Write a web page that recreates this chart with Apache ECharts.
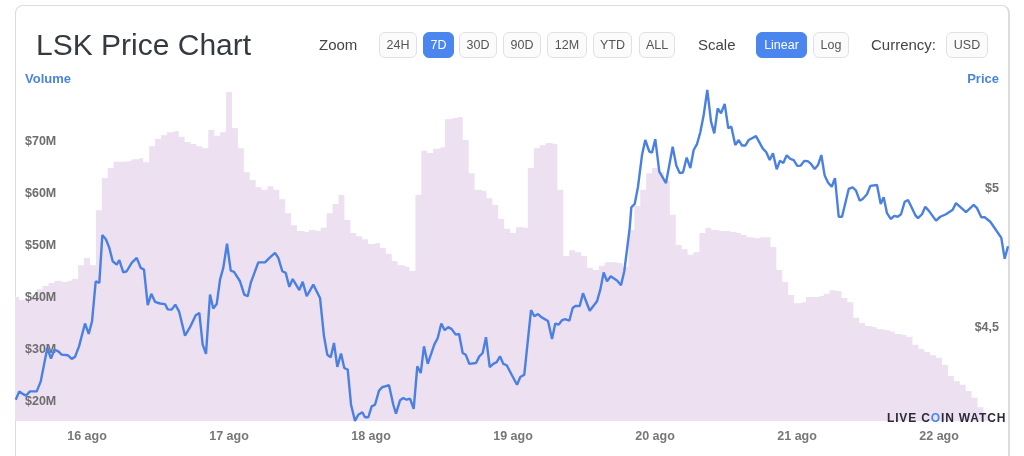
<!DOCTYPE html>
<html>
<head>
<meta charset="utf-8">
<title>LSK Price Chart</title>
<script src="https://cdn.jsdelivr.net/npm/echarts@6/dist/echarts.min.js"></script>
<style>
  html, body { margin: 0; width: 1024px; height: 456px; overflow: hidden; background: #fff; font-family: "Liberation Sans", Arial, sans-serif; }
  #card { position: absolute; left: 15px; top: 5px; width: 992px; height: 520px; border: 1px solid #dcdcdc; border-right-width: 2px; border-radius: 8px; }
  #chart { position: absolute; left: 0; top: 0; width: 1024px; height: 456px; }
  .title { position: absolute; left: 36px; top: 27px; font-size: 30px; line-height: 36px; color: #343a40; white-space: nowrap; }
  .lbl { position: absolute; top: 36px; font-size: 15px; line-height: 18px; color: #444; white-space: nowrap; }
  .btn { position: absolute; top: 32px; height: 24px; line-height: 24px; box-sizing: content-box; border: 1px solid #dfe1e6; border-radius: 6px; background: #fbfbfc; color: #555; font-size: 12.5px; text-align: center; }
  .on { background: #4a86ee; border-color: #4a86ee; color: #fff; }
  .axname { position: absolute; top: 71px; font-size: 13px; line-height: 15px; font-weight: bold; color: #4a86d8; white-space: nowrap; }
  #mark { position: absolute; left: 887px; top: 411px; font-size: 12px; line-height: 14px; font-weight: bold; letter-spacing: 0.85px; color: #2a2a38; white-space: nowrap; }
  #mark span { color: #4a86ee; }
</style>
</head>
<body>
<div id="card"></div>
<div id="chart"></div>
<div class="title">LSK Price Chart</div>
<div class="lbl" style="left:319px">Zoom</div>
<div class="btn" style="left:379px;width:36px">24H</div>
<div class="btn on" style="left:423px;width:29px">7D</div>
<div class="btn" style="left:459px;width:36px">30D</div>
<div class="btn" style="left:503px;width:36px">90D</div>
<div class="btn" style="left:547px;width:38px">12M</div>
<div class="btn" style="left:593px;width:37px">YTD</div>
<div class="btn" style="left:639px;width:34px">ALL</div>
<div class="lbl" style="left:698px">Scale</div>
<div class="btn on" style="left:756px;width:49px">Linear</div>
<div class="btn" style="left:813px;width:34px">Log</div>
<div class="lbl" style="left:871px">Currency:</div>
<div class="btn" style="left:946px;width:40px">USD</div>
<div class="axname" style="left:25px">Volume</div>
<div class="axname" style="right:25px">Price</div>
<div id="mark">LIVE C<span>O</span>IN WATCH</div>
<script>
// x axis runs in hours counted from 16 ago 00:00
var dayHours = [0, 24, 48, 72, 96, 120, 144];
var dayLabels = ['16 ago', '17 ago', '18 ago', '19 ago', '20 ago', '21 ago', '22 ago'];
var volumeTicks = [20, 30, 40, 50, 60, 70];
var priceTicks = [4.5, 5];
var priceTickLabels = ['$4,5', '$5'];

// hourly volume in $M, first entry is hour -13
var volumeValues = [
  40.3, 40.2, 39.6, 39.4, 40.6, 41.7, 42.3, 42.9, 43.3, 43.1, 43.3, 43.7, 46.3, 47.7, 46.3,
  56.9, 63.1, 65, 66.2, 66.2, 66.3, 66.7, 66.9, 66.1, 69.2, 70.6, 71.3, 71.9, 72.1, 71,
  70, 69.6, 69.2, 68.8, 72.3, 71.2, 71.9, 79.6, 72.7, 68.8, 64.2, 62.7, 61.3, 60.8, 61.5,
  60.8, 59, 56.3, 54, 52.9, 52.7, 53.1, 52.9, 53.5, 56.3, 58.1, 59.8, 55, 52.5, 51.9,
  51.3, 50.4, 50.6, 49.6, 48.5, 47.1, 46.3, 46, 45.2, 59.8, 68.3, 67.9, 68.7, 69, 74.4,
  74.6, 74.8, 70.4, 64, 60.8, 60.6, 59.2, 57.9, 55.2, 53.3, 52.5, 53.6, 53.5, 65, 68.8,
  69.4, 69.8, 69.6, 60.8, 48.1, 49.2, 48.8, 48.1, 45.8, 45.4, 46.2, 46.9, 46.9, 46.7, 46,
  53.1, 57.7, 60.8, 64, 65, 64.2, 62.5, 56, 50.2, 49.4, 48.3, 48.8, 52.5, 53.5, 53.1,
  52.9, 52.9, 52.7, 52.5, 52.1, 51.7, 51.5, 51.7, 51.7, 49.8, 45.4, 43.1, 40.6, 39, 39.2,
  40.2, 40.2, 40.4, 40.8, 41.5, 41.3, 40, 39.2, 36.2, 35.2, 34.6, 34.4, 34, 33.8, 33.5,
  33.1, 32.9, 32.5, 31, 30.2, 29.6, 29, 28.5, 27.1, 25, 24, 23.3, 22.1, 20.8, 19,
  17.5, 16.3, 15, 15, 15
];

var priceHours = [
  -12.05, -11.44, -10.87, -10.31, -9.63, -8.5, -7.82, -7.1, -6.71, -6.08, -5.53, -4.85, -4.28, -3.26, -2.59, -2.03, -1.35, -0.34, 0.29, 0.85,
  1.47, 2.08, 2.59, 3.21, 3.77, 4.34, 5.02, 5.46, 6.13, 6.71, 7.55, 8.4, 9.08, 9.63, 10.26, 10.87, 11.49, 12.34, 13.18, 13.64,
  14.31, 14.92, 15.55, 16.56, 17.41, 18.37, 18.98, 19.55, 20.11, 20.79, 21.34, 21.92, 22.48, 23.03, 23.66, 24.29, 24.84, 25.86, 26.58, 27.16,
  27.67, 28.95, 30.08, 30.93, 31.77, 32.33, 33.01, 33.58, 34.19, 34.76, 35.88, 36.45, 37.13, 38.24, 39.38, 40.05, 40.61, 41.19, 41.74, 42.3,
  42.93, 43.48, 44.06, 44.62, 45.29, 45.85, 46.53, 46.98, 47.54, 48.11, 48.67, 49.35, 49.91, 51.04, 51.76, 52.22, 52.9, 53.45, 54.03, 54.59,
  55.21, 55.82, 56.4, 56.95, 57.58, 58.69, 59.27, 59.88, 60.45, 61.06, 61.63, 62.31, 62.87, 63.49, 64, 64.61, 65.74, 66.3, 66.87, 67.43,
  68.06, 68.66, 69.24, 69.8, 70.35, 70.93, 71.77, 72.67, 73.23, 73.9, 75.04, 75.59, 76.22, 76.78, 77.91, 78.59, 79.14, 79.72, 80.28, 80.83,
  81.51, 82.08, 82.52, 83.27, 83.82, 84.96, 86.19, 86.75, 87.32, 87.88, 88.51, 89.62, 90.25, 90.8, 91.72, 91.99, 92.56, 93.12, 93.8, 94.35,
  95.03, 95.49, 96.04, 96.72, 97.85, 98.98, 99.59, 100.17, 100.72, 101.35, 101.96, 102.53, 103.09, 103.65, 104.22, 104.83, 105.46, 106.01, 106.59, 107.15,
  107.77, 108.38, 108.89, 109.56, 110.14, 110.7, 111.25, 111.83, 113.06, 114.19, 114.8, 115.38, 115.93, 116.56, 117.12, 117.67, 118.25, 118.86, 119.43, 120.04,
  120.62, 121.22, 121.8, 122.36, 122.98, 123.54, 124.1, 124.67, 125.23, 125.85, 126.41, 127.04, 127.6, 128.73, 129.4, 129.96, 130.59, 131.09, 131.82, 132.38,
  133.51, 134.14, 134.64, 135.2, 135.83, 136.43, 137.01, 137.57, 138.19, 138.75, 139.31, 139.98, 140.44, 141.12, 141.67, 142.25, 143.48, 144.21, 145.17, 146.3,
  146.86, 148.55, 149.85, 150.41, 151.14, 151.71, 152.66, 153.5, 154.52, 155.09, 155.65
];
var priceValues = [
  4.242, 4.272, 4.263, 4.257, 4.272, 4.272, 4.308, 4.386, 4.428, 4.39, 4.422, 4.416, 4.404, 4.402, 4.389, 4.396, 4.434, 4.516, 4.479, 4.524,
  4.668, 4.662, 4.834, 4.818, 4.788, 4.74, 4.728, 4.744, 4.7, 4.704, 4.734, 4.752, 4.716, 4.71, 4.582, 4.623, 4.594, 4.588, 4.586, 4.567,
  4.566, 4.584, 4.56, 4.472, 4.503, 4.546, 4.554, 4.44, 4.407, 4.62, 4.57, 4.586, 4.674, 4.716, 4.803, 4.706, 4.702, 4.668, 4.62, 4.614,
  4.662, 4.736, 4.736, 4.754, 4.77, 4.752, 4.704, 4.698, 4.648, 4.676, 4.636, 4.666, 4.614, 4.656, 4.608, 4.47, 4.404, 4.395, 4.446, 4.36,
  4.408, 4.356, 4.35, 4.224, 4.166, 4.188, 4.197, 4.179, 4.179, 4.218, 4.224, 4.275, 4.287, 4.294, 4.224, 4.192, 4.24, 4.248, 4.242, 4.246,
  4.209, 4.362, 4.338, 4.434, 4.371, 4.44, 4.464, 4.516, 4.492, 4.503, 4.496, 4.476, 4.479, 4.41, 4.404, 4.371, 4.374, 4.398, 4.41, 4.467,
  4.359, 4.371, 4.377, 4.398, 4.371, 4.366, 4.332, 4.296, 4.324, 4.332, 4.564, 4.542, 4.55, 4.539, 4.525, 4.46, 4.516, 4.512, 4.528, 4.532,
  4.526, 4.572, 4.579, 4.579, 4.625, 4.562, 4.596, 4.638, 4.7, 4.668, 4.686, 4.67, 4.654, 4.704, 4.86, 4.934, 4.946, 5.008, 5.122, 5.176,
  5.134, 5.131, 5.179, 5.062, 5.021, 5.152, 5.084, 5.057, 5.059, 5.113, 5.075, 5.14, 5.161, 5.204, 5.266, 5.356, 5.242, 5.2, 5.29, 5.272,
  5.306, 5.218, 5.224, 5.158, 5.176, 5.156, 5.156, 5.176, 5.19, 5.146, 5.132, 5.104, 5.128, 5.071, 5.102, 5.093, 5.121, 5.108, 5.104, 5.083,
  5.084, 5.101, 5.1, 5.09, 5.072, 5.086, 5.122, 5.048, 5.023, 5.008, 5.039, 4.9, 4.9, 5, 5.006, 4.994, 4.958, 4.964, 4.981, 5.011,
  5.014, 4.946, 4.97, 4.913, 4.892, 4.903, 4.9, 4.909, 4.954, 4.96, 4.936, 4.906, 4.895, 4.909, 4.936, 4.922, 4.886, 4.9, 4.909, 4.925,
  4.949, 4.917, 4.943, 4.931, 4.898, 4.898, 4.882, 4.856, 4.824, 4.749, 4.794
];

var chart = echarts.init(document.getElementById('chart'));

var volumeData = volumeValues.map(function (v, i) { return [i - 13, v]; });
var priceData = priceValues.map(function (v, i) { return [priceHours[i], v]; });

var tickFont = { color: '#6e6e6e', fontFamily: 'Liberation Sans', fontWeight: 'bold', fontSize: 12.5, padding: [2, 0, 0, 0] };

chart.setOption({
  animation: false,
  grid: { left: 15, right: 16, top: 88, bottom: 35 },
  xAxis: {
    type: 'value',
    min: -12.17,
    max: 155.65,
    splitLine: { show: false },
    axisLine: { show: false },
    axisTick: { show: false },
    axisLabel: {
      customValues: dayHours,
      margin: 9,
      color: '#777',
      fontFamily: 'Liberation Sans',
      fontWeight: 'bold',
      fontSize: 12.5,
      formatter: function (v) { return dayLabels[dayHours.indexOf(v)]; }
    }
  },
  yAxis: [{
    type: 'value',
    position: 'left',
    min: 16.35,
    max: 80.39,
    z: 3,
    splitLine: { show: false },
    axisLine: { show: false },
    axisTick: { show: false },
    axisLabel: Object.assign({
      inside: true,
      margin: 10,
      customValues: volumeTicks,
      formatter: function (v) { return '$' + v + 'M'; }
    }, tickFont)
  }, {
    type: 'value',
    position: 'right',
    min: 4.1655,
    max: 5.363,
    z: 3,
    splitLine: { show: false },
    axisLine: { show: false },
    axisTick: { show: false },
    axisLabel: Object.assign({
      inside: true,
      margin: 9,
      customValues: priceTicks,
      formatter: function (v) { return priceTickLabels[priceTicks.indexOf(v)]; }
    }, tickFont)
  }],
  series: [{
    name: 'Volume',
    type: 'line',
    yAxisIndex: 0,
    z: 1,
    step: 'middle',
    showSymbol: false,
    lineStyle: { width: 0 },
    itemStyle: { color: '#ede0f1' },
    areaStyle: { color: '#ede0f1', opacity: 1 },
    data: volumeData
  }, {
    name: 'Price',
    type: 'line',
    yAxisIndex: 1,
    z: 4,
    showSymbol: false,
    lineStyle: { color: '#4a80e2', width: 2.4 },
    itemStyle: { color: '#4a80e2' },
    data: priceData
  }]
});
</script>
</body>
</html>
